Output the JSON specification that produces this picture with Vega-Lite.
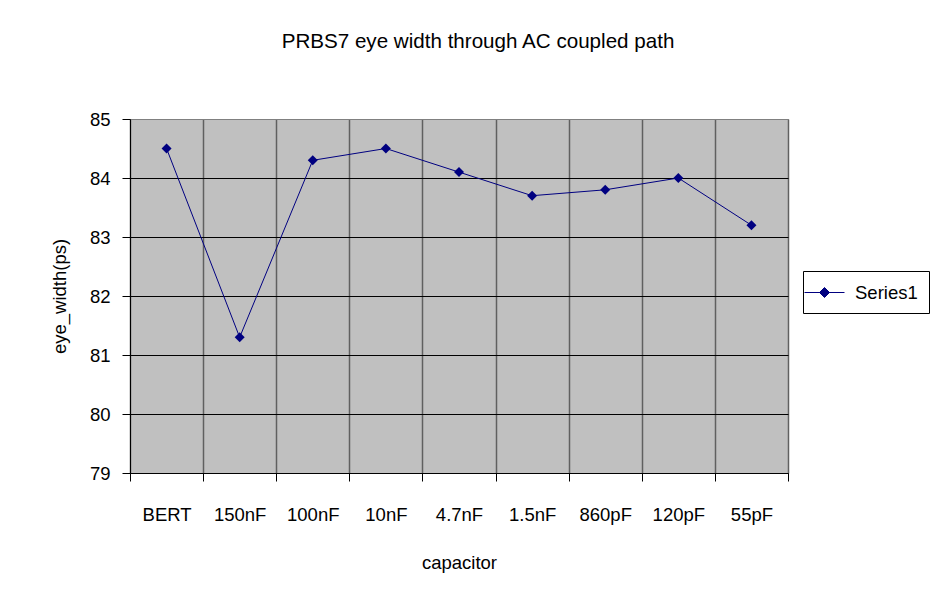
{
  "$schema": "https://vega.github.io/schema/vega-lite/v6.json",
  "autosize": "none",
  "width": 658,
  "height": 354,
  "padding": {"left": 130, "top": 119, "right": 151, "bottom": 127},
  "background": "white",
  "title": {
    "text": "PRBS7 eye width through AC coupled path",
    "font": "Liberation Sans",
    "fontSize": 20.6,
    "fontWeight": "normal",
    "color": "black",
    "anchor": "middle",
    "dx": 19,
    "offset": 57
  },
  "config": {
    "font": "Liberation Sans",
    "view": {"fill": "#C0C0C0", "stroke": "#808080", "strokeWidth": 1}
  },
  "data": {
    "values": [
      {"capacitor": "BERT", "eye_width": 84.5, "series": "Series1"},
      {"capacitor": "150nF", "eye_width": 81.3, "series": "Series1"},
      {"capacitor": "100nF", "eye_width": 84.3, "series": "Series1"},
      {"capacitor": "10nF", "eye_width": 84.5, "series": "Series1"},
      {"capacitor": "4.7nF", "eye_width": 84.1, "series": "Series1"},
      {"capacitor": "1.5nF", "eye_width": 83.7, "series": "Series1"},
      {"capacitor": "860pF", "eye_width": 83.8, "series": "Series1"},
      {"capacitor": "120pF", "eye_width": 84.0, "series": "Series1"},
      {"capacitor": "55pF", "eye_width": 83.2, "series": "Series1"}
    ]
  },
  "encoding": {
    "x": {
      "field": "capacitor",
      "type": "nominal",
      "sort": null,
      "scale": {"type": "band", "paddingInner": 0, "paddingOuter": 0},
      "axis": {
        "title": "capacitor",
        "titleFontSize": 18.5,
        "titleFontWeight": "normal",
        "titleColor": "black",
        "titlePadding": 30,
        "labelFontSize": 18.5,
        "labelColor": "black",
        "labelAngle": 0,
        "labelPadding": 24,
        "tickBand": "extent",
        "tickSize": 8,
        "tickColor": "black",
        "domainColor": "black",
        "grid": true,
        "gridColor": "#606060",
        "gridWidth": 1.5
      }
    },
    "y": {
      "field": "eye_width",
      "type": "quantitative",
      "scale": {"domain": [79, 85], "nice": false, "zero": false},
      "axis": {
        "title": "eye_width(ps)",
        "titleFontSize": 18.5,
        "titleFontWeight": "normal",
        "titleColor": "black",
        "titlePadding": 20,
        "values": [79, 80, 81, 82, 83, 84, 85],
        "labelFontSize": 18.5,
        "labelColor": "black",
        "labelPadding": 12,
        "tickSize": 8,
        "tickColor": "black",
        "domainColor": "black",
        "grid": true,
        "gridColor": {"condition": {"test": "datum.value == 85", "value": "#808080"}, "value": "black"},
        "gridWidth": 1
      }
    },
    "color": {
      "field": "series",
      "type": "nominal",
      "scale": {"range": ["#000080"]},
      "legend": {
        "title": null,
        "orient": "none",
        "legendX": 673,
        "legendY": 152,
        "strokeColor": "black",
        "fillColor": "white",
        "padding": 11,
        "symbolType": "M-2,0H2M0,-0.5L0.5,0L0,0.5L-0.5,0Z",
        "symbolSize": 400,
        "symbolStrokeWidth": 1,
        "symbolFillColor": "#000080",
        "symbolStrokeColor": "#000080",
        "labelFontSize": 18.5,
        "labelColor": "black",
        "labelOffset": 20
      }
    }
  },
  "layer": [
    {"mark": {"type": "line", "strokeWidth": 1}},
    {"mark": {"type": "point", "shape": "diamond", "filled": true, "size": 100, "opacity": 1}}
  ]
}
